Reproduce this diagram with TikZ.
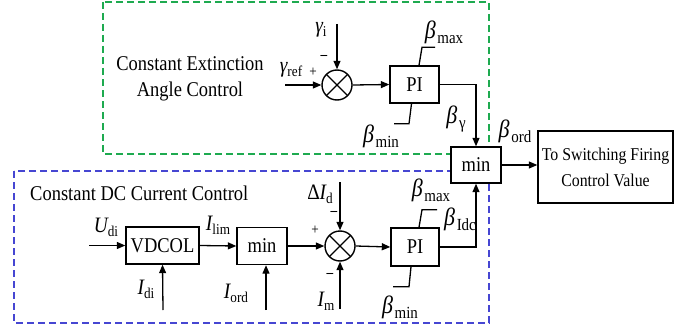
\documentclass[tikz,border=0pt]{standalone}
\usepackage{fontspec}
\setmainfont[FakeStretch=0.88]{Liberation Serif}
\usetikzlibrary{arrows.meta,calc}
\definecolor{dgreen}{RGB}{30,170,80}
\definecolor{dblue}{RGB}{70,70,210}
\newcommand{\bsub}[2]{{\fontsize{25}{25}\selectfont\itshape #1}\,\raisebox{-5pt}{\fontsize{17}{17}\selectfont #2}}
\newcommand{\vsub}[2]{{\fontsize{22}{22}\selectfont\itshape #1}\raisebox{-4pt}{\fontsize{15}{15}\selectfont #2}}
\begin{document}
\begin{tikzpicture}[x=1pt,y=-1pt,
  blk/.style={draw, line width=1.4pt, fill=white, inner sep=0, font=\fontsize{21}{21}\selectfont},
  arr/.style={line width=1.3pt, -{Triangle[length=8.5pt,width=7pt]}},
  ln/.style={line width=1.3pt},
  lbl/.style={inner sep=0},
  sgn/.style={inner sep=0, font=\fontsize{15}{15}\selectfont},
  sumj/.style={circle, draw, line width=1.4pt, minimum size=30pt, inner sep=0,
    path picture={\draw[line width=1.2pt] (path picture bounding box.north west) -- (path picture bounding box.south east)
      (path picture bounding box.north east) -- (path picture bounding box.south west);}},
  grp/.style={line width=1.3pt, dash pattern=on 7pt off 4pt}]
\useasboundingbox (0,0) rectangle (693,329);
% group frames
\draw[grp, dgreen] (103,2) rectangle (489,154);
\draw[grp, dblue] (14,171) rectangle (489,323);
\node[lbl, align=center, font=\fontsize{21}{26}\selectfont] (eatxt) at (190,79) {Constant Extinction\\Angle Control};
\node[lbl, anchor=base west, font=\fontsize{21}{21}\selectfont] (dctxt) at (30,200) {Constant DC Current Control};
% blocks
\node[sumj] (sum1) at (337,85) {};
\node[blk, minimum width=49pt, minimum height=37pt] (pi1) at (414.5,84.5) {PI};
\node[blk, minimum width=50pt, minimum height=36pt] (min1) at (476,165) {min};
\node[blk, minimum width=135pt, minimum height=72pt, align=center, font=\fontsize{18}{26}\selectfont] (out) at (605.5,167) {To Switching Firing\\Control Value};
\node[blk, minimum width=73pt, minimum height=37pt] (vdcol) at (162.5,245.5) {VDCOL};
\node[blk, minimum width=50pt, minimum height=37pt] (min2) at (262,246) {min};
\node[sumj] (sum2) at (340,246) {};
\node[blk, minimum width=48pt, minimum height=38pt] (pi2) at (415,247) {PI};
% input coordinates
\coordinate (gin) at (285,85);
\coordinate (gitop) at (337,24);
\coordinate (udin) at (89,245.5);
\coordinate (idin) at (163,310);
\coordinate (iordin) at (266,310);
\coordinate (didin) at (340,182);
\coordinate (imin) at (340,309);
% connectors top
\draw[arr] (gin) -- (sum1.west);
\draw[arr] (gitop) -- (sum1.north);
\draw[arr] (sum1.east) -- (pi1.west);
\draw[arr] (pi1.east) -| (min1.north);
\draw[arr] (min1.east) -- (min1.east -| out.west);
% connectors bottom
\draw[arr] (udin) -- (vdcol.west);
\draw[arr] (idin) -- (vdcol.south);
\draw[arr] (vdcol.east) -- (min2.west);
\draw[arr] (iordin) -- (iordin |- min2.south);
\draw[arr] (min2.east) -- (sum2.west);
\draw[arr] (didin) -- (sum2.north);
\draw[arr] (imin) -- (sum2.south);
\draw[arr] (sum2.east) -- (pi2.west);
\draw[arr] (pi2.east) -| (min1.south);
% limiter marks
\draw[ln] (pi1.north) ++(4.5,0) -- ++(3,-18) -- ++(13,0);
\draw[ln] (pi1.south) ++(-3,0) -- ++(-2.5,20) -- ++(-15,0);
\draw[ln] (pi2.north) ++(4,0) -- ++(3,-17.5) -- ++(15,0);
\draw[ln] (pi2.south) ++(-4,0) -- ++(-2,20) -- ++(-16,0);
% labels top
\node[lbl] (lgi) at (321,30) {\vsub{γ}{i}};
\node[lbl] (lgref) at (291,70) {\vsub{γ}{ref}};
\node[sgn] (p1) at (313,72) {+};
\node[sgn] (m1) at (324,57) {\textbf{–}};
\node[lbl] (lbmax1) at (444,32) {\bsub{β}{max}};
\node[lbl] (lbmin1) at (381,136) {\bsub{β}{min}};
\node[lbl] (lbg) at (456,119) {\bsub{β}{γ}};
\node[lbl] (lbord) at (515,131) {\bsub{β}{ord}};
% labels bottom
\node[lbl] (ludi) at (106,227) {\vsub{U}{di}};
\node[lbl] (lilim) at (218,225) {\vsub{I}{lim}};
\node[lbl] (lidi) at (146,289) {\vsub{I}{di}};
\node[lbl] (liord) at (236,293) {\vsub{I}{ord}};
\node[lbl] (ldid) at (320,194) {{\fontsize{22}{22}\selectfont Δ}\vsub{I}{d}};
\node[sgn] (m2) at (334,213) {\textbf{–}};
\node[sgn] (p2) at (315,230) {+};
\node[sgn] (m3) at (330,275) {\textbf{–}};
\node[lbl] (lim) at (326,301) {\vsub{I}{m}};
\node[lbl] (lbmax2) at (431,190) {\bsub{β}{max}};
\node[lbl] (lbidc) at (460,219) {\bsub{β}{Idc}};
\node[lbl] (lbmin2) at (400,307) {\bsub{β}{min}};
\end{tikzpicture}
\end{document}
